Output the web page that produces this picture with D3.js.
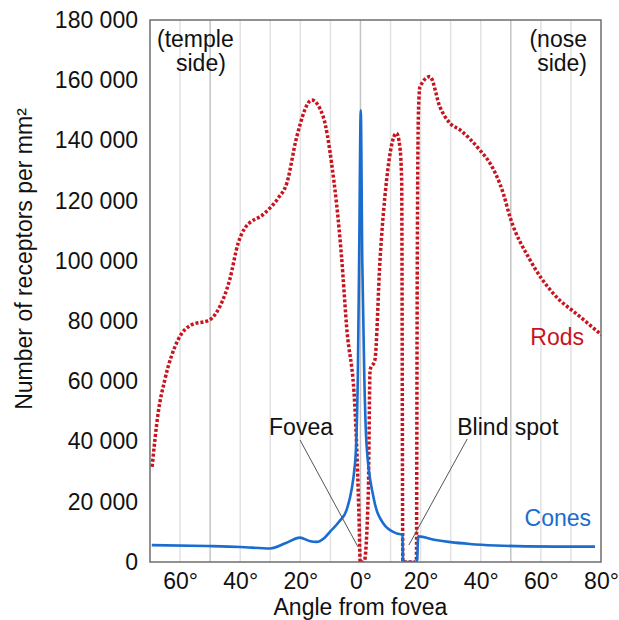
<!DOCTYPE html>
<meta charset="utf-8">

<!-- Load d3.js -->
<script src="https://d3js.org/d3.v7.min.js"></script>

<style>
    body { margin: 0; background: #fff; }
    text { font-family: "Liberation Sans", Arial, Helvetica, sans-serif; fill: #111; }
    .domain { display: none; }
</style>

<body>
    <div id="my_dataviz"></div>

    <script>

        // rods: angle (deg) / density per mm2
        var rodAngles = [-69.3, -67.3, -65.1, -60.7, -56.3, -50.2, -46.8, -43.5, -40.7, -38.5,
            -31.9, -27.4, -24.5, -21.2, -16.2, -12.4, -9.6, -6.3, -4.6, -1.8,
            -0.4, -0.1, 1.2, 2.6, 3.2, 4.8, 6.5, 8.7, 12.0, 13.1,
            13.7, 14.1, 18.6, 18.9, 19.3, 19.8, 23.1, 26.4, 29.8, 33.1,
            39.7, 43.1, 47.5, 49.7, 56.4, 64.1, 73.0, 80.2];
        var rodDensity = [31600, 49400, 60400, 73700, 78700, 80400, 84800, 93700, 105800, 110800,
            115800, 120800, 125800, 141200, 153400, 147900, 132400, 101400, 78100, 50500,
            11700, 0, 0, 22800, 63800, 67100, 100300, 126900, 142400, 137900,
            126900, 0, 0, 100300, 150000, 157800, 161200, 151200, 145700, 143500,
            136800, 132400, 122400, 114700, 100300, 89200, 81500, 75400];

        // cones: angle (deg) / density per mm2
        var coneAngles = [-69.4, -51, -40, -30, -25, -20.1, -17, -14.6, -12, -10.1,
            -7, -4.6, -1.8, -0.9, -0.45, 0.1, 0.6, 1.3, 2.06, 4.3,
            7.6, 12.0, 14.0, 14.15, 18.8, 19.2, 25, 30, 36.4, 45,
            55, 69.6, 78];
        var coneDensity = [5600, 5300, 5000, 4500, 6200, 8100, 7000, 6700, 8000, 10100,
            13500, 17300, 32800, 60400, 100000, 150000, 100000, 60400, 38300, 21700,
            12800, 9500, 9000, 0, 0, 8500, 7300, 6600, 6000, 5500,
            5200, 5100, 5100];

        var xTicks = [-60, -40, -20, 0, 20, 40, 60, 80];
        var yTicks = [0, 20000, 40000, 60000, 80000, 100000, 120000, 140000, 160000, 180000];

        var rods = rodAngles.map(function (a, i) { return { a: a, v: rodDensity[i] }; });
        var cones = coneAngles.map(function (a, i) { return { a: a, v: coneDensity[i] }; });

        // set the dimensions and margins of the graph
        var margin = { top: 20, right: 18, bottom: 58, left: 150 },
            width = 619 - margin.left - margin.right,
            height = 620 - margin.top - margin.bottom;

        var svg = d3.select("#my_dataviz").append("svg")
            .attr("width", 619)
            .attr("height", 620)
            .append("g")
            .attr("transform", "translate(" + margin.left + "," + margin.top + ")");

        var x = d3.scaleLinear().domain([-70, 80]).range([0, width]);
        var y = d3.scaleLinear().domain([0, 180000]).range([height, 0]);

        // vertical grid every 10 degrees
        svg.append("g")
            .selectAll("line")
            .data(d3.range(-60, 80, 10))
            .enter().append("line")
            .attr("x1", function (d) { return x(d); })
            .attr("x2", function (d) { return x(d); })
            .attr("y1", 0)
            .attr("y2", height)
            .style("stroke", function (d) { return (d % 50 === 0) ? "#c4c4c4" : "#e2e2e2"; })
            .style("stroke-width", 1.5);

        svg.append("clipPath").attr("id", "clip")
            .append("rect").attr("width", width).attr("height", height);

        var line = d3.line()
            .x(function (d) { return x(d.a); })
            .y(function (d) { return y(d.v); })
            .curve(d3.curveMonotoneX);

        svg.append("path")
            .datum(rods)
            .attr("clip-path", "url(#clip)")
            .attr("d", line)
            .style("fill", "none")
            .style("stroke", "#c8141e")
            .style("stroke-width", 3.5)
            .style("stroke-dasharray", "3 2");

        svg.append("path")
            .datum(cones)
            .attr("clip-path", "url(#clip)")
            .attr("d", line)
            .style("fill", "none")
            .style("stroke", "#1a6ccf")
            .style("stroke-width", 2.6)
            .style("stroke-linejoin", "round");

        // frame
        svg.append("rect")
            .attr("width", width)
            .attr("height", height)
            .style("fill", "none")
            .style("stroke", "#6e6e6e")
            .style("stroke-width", 1.5);

        // axes
        svg.append("g")
            .attr("transform", "translate(0," + height + ")")
            .call(d3.axisBottom(x).tickValues(xTicks).tickSize(0).tickPadding(11)
                .tickFormat(function (d) { return Math.abs(d) + "°"; }))
            .selectAll("text")
            .style("font-size", "23px");

        svg.append("g")
            .call(d3.axisLeft(y).tickValues(yTicks).tickSize(0).tickPadding(12)
                .tickFormat(function (d) { return d3.format(",")(d).replace(/,/g, " "); }))
            .selectAll("text")
            .style("font-size", "23px");

        svg.selectAll(".tick text").style("fill", "#111").style("font-family", "'Liberation Sans', Arial, sans-serif");

        // axis titles
        svg.append("text")
            .attr("x", x(0))
            .attr("y", height + 53)
            .attr("text-anchor", "middle")
            .style("font-size", "23px")
            .text("Angle from fovea");

        svg.append("text")
            .attr("transform", "translate(" + (-118) + "," + (height / 2 - 32) + ") rotate(-90)")
            .attr("text-anchor", "middle")
            .style("font-size", "23px")
            .text("Number of receptors per mm²");

        // side notes
        svg.append("text").attr("x", 7).attr("y", 27).style("font-size", "23px").text("(temple");
        svg.append("text").attr("x", 26).attr("y", 51).style("font-size", "23px").text("side)");
        svg.append("text").attr("x", width - 14).attr("y", 27).attr("text-anchor", "end").style("font-size", "23px").text("(nose");
        svg.append("text").attr("x", width - 14).attr("y", 51).attr("text-anchor", "end").style("font-size", "23px").text("side)");

        // series labels
        svg.append("text").attr("x", width - 17).attr("y", 325).attr("text-anchor", "end")
            .style("font-size", "23px").style("fill", "#c8141e").text("Rods");
        svg.append("text").attr("x", width - 10).attr("y", 506).attr("text-anchor", "end")
            .style("font-size", "23px").style("fill", "#1a6ccf").text("Cones");

        // callouts
        var notes = [
            { label: "Fovea", tx: x(-30.4), ty: 415, ax: x(-20.1), ay: 420, bx: x(-0.8), by: 527 },
            { label: "Blind spot", tx: x(32.2), ty: 415, ax: x(35.5), ay: 419, bx: x(16.1), by: 525 }
        ];
        notes.forEach(function (n) {
            svg.append("line")
                .attr("x1", n.ax).attr("y1", n.ay).attr("x2", n.bx).attr("y2", n.by)
                .style("stroke", "#555").style("stroke-width", 1);
            svg.append("text").attr("x", n.tx).attr("y", n.ty)
                .style("font-size", "23px").text(n.label);
        });

    </script>
</body>

</html>
